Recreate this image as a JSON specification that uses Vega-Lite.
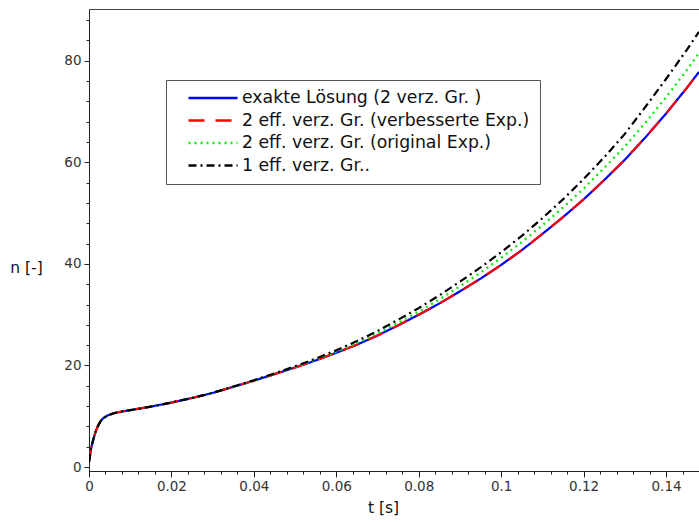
{
"$schema": "https://vega.github.io/schema/vega-lite/v6.json",
"autosize": {"type": "none"},
"padding": {"left": 89, "top": 9, "right": 0, "bottom": 51},
"width": 610,
"height": 462,
"background": "white",
"config": {"view": {"stroke": "#444", "strokeWidth": 1}, "font": "DejaVu Sans"},
"datasets": {
"curves": [
{"t":0,"n":1.0,"s":"A"},{"t":0.0005,"n":3.7,"s":"A"},{"t":0.001,"n":5.3,"s":"A"},{"t":0.0015,"n":6.7,"s":"A"},{"t":0.002,"n":7.8,"s":"A"},{"t":0.0027,"n":8.9,"s":"A"},{"t":0.0034,"n":9.6,"s":"A"},{"t":0.0046,"n":10.2,"s":"A"},{"t":0.006,"n":10.6,"s":"A"},{"t":0.008,"n":10.95,"s":"A"},{"t":0.01,"n":11.2,"s":"A"},{"t":0.015,"n":11.9,"s":"A"},{"t":0.02,"n":12.7,"s":"A"},{"t":0.025,"n":13.6,"s":"A"},{"t":0.03,"n":14.6,"s":"A"},{"t":0.035,"n":15.8,"s":"A"},{"t":0.04,"n":17.0,"s":"A"},{"t":0.045,"n":18.3,"s":"A"},{"t":0.05,"n":19.6,"s":"A"},{"t":0.055,"n":21.0,"s":"A"},{"t":0.06,"n":22.5,"s":"A"},{"t":0.065,"n":24.1,"s":"A"},{"t":0.07,"n":25.9,"s":"A"},{"t":0.075,"n":27.9,"s":"A"},{"t":0.08,"n":30.0,"s":"A"},{"t":0.085,"n":32.2,"s":"A"},{"t":0.09,"n":34.6,"s":"A"},{"t":0.095,"n":37.1,"s":"A"},{"t":0.1,"n":39.8,"s":"A"},{"t":0.105,"n":42.7,"s":"A"},{"t":0.11,"n":45.9,"s":"A"},{"t":0.115,"n":49.2,"s":"A"},{"t":0.12,"n":52.7,"s":"A"},{"t":0.125,"n":56.5,"s":"A"},{"t":0.13,"n":60.5,"s":"A"},{"t":0.135,"n":64.9,"s":"A"},{"t":0.14,"n":69.6,"s":"A"},{"t":0.145,"n":74.6,"s":"A"},{"t":0.148,"n":77.8,"s":"A"},
{"t":0,"n":1.0,"s":"B"},{"t":0.0005,"n":3.7,"s":"B"},{"t":0.001,"n":5.3,"s":"B"},{"t":0.0015,"n":6.7,"s":"B"},{"t":0.002,"n":7.8,"s":"B"},{"t":0.0027,"n":8.9,"s":"B"},{"t":0.0034,"n":9.6,"s":"B"},{"t":0.0046,"n":10.2,"s":"B"},{"t":0.006,"n":10.6,"s":"B"},{"t":0.008,"n":10.95,"s":"B"},{"t":0.01,"n":11.2,"s":"B"},{"t":0.015,"n":11.9,"s":"B"},{"t":0.02,"n":12.7,"s":"B"},{"t":0.025,"n":13.6,"s":"B"},{"t":0.03,"n":14.6,"s":"B"},{"t":0.035,"n":15.8,"s":"B"},{"t":0.04,"n":17.0,"s":"B"},{"t":0.045,"n":18.3,"s":"B"},{"t":0.05,"n":19.6,"s":"B"},{"t":0.055,"n":21.0,"s":"B"},{"t":0.06,"n":22.5,"s":"B"},{"t":0.065,"n":24.1,"s":"B"},{"t":0.07,"n":25.9,"s":"B"},{"t":0.075,"n":27.9,"s":"B"},{"t":0.08,"n":30.0,"s":"B"},{"t":0.085,"n":32.2,"s":"B"},{"t":0.09,"n":34.6,"s":"B"},{"t":0.095,"n":37.1,"s":"B"},{"t":0.1,"n":39.8,"s":"B"},{"t":0.105,"n":42.7,"s":"B"},{"t":0.11,"n":45.9,"s":"B"},{"t":0.115,"n":49.2,"s":"B"},{"t":0.12,"n":52.7,"s":"B"},{"t":0.125,"n":56.5,"s":"B"},{"t":0.13,"n":60.5,"s":"B"},{"t":0.135,"n":64.9,"s":"B"},{"t":0.14,"n":69.6,"s":"B"},{"t":0.145,"n":74.6,"s":"B"},{"t":0.148,"n":77.8,"s":"B"},
{"t":0,"n":1.0,"s":"C"},{"t":0.0005,"n":3.7,"s":"C"},{"t":0.001,"n":5.3,"s":"C"},{"t":0.0015,"n":6.7,"s":"C"},{"t":0.002,"n":7.8,"s":"C"},{"t":0.0027,"n":8.9,"s":"C"},{"t":0.0034,"n":9.6,"s":"C"},{"t":0.0046,"n":10.2,"s":"C"},{"t":0.006,"n":10.6,"s":"C"},{"t":0.008,"n":10.95,"s":"C"},{"t":0.01,"n":11.2,"s":"C"},{"t":0.015,"n":11.9,"s":"C"},{"t":0.02,"n":12.7,"s":"C"},{"t":0.025,"n":13.6,"s":"C"},{"t":0.03,"n":14.6,"s":"C"},{"t":0.035,"n":15.8,"s":"C"},{"t":0.04,"n":17.0,"s":"C"},{"t":0.045,"n":18.35,"s":"C"},{"t":0.05,"n":19.7,"s":"C"},{"t":0.055,"n":21.15,"s":"C"},{"t":0.06,"n":22.7,"s":"C"},{"t":0.065,"n":24.4,"s":"C"},{"t":0.07,"n":26.3,"s":"C"},{"t":0.075,"n":28.4,"s":"C"},{"t":0.08,"n":30.6,"s":"C"},{"t":0.085,"n":33.0,"s":"C"},{"t":0.09,"n":35.6,"s":"C"},{"t":0.095,"n":38.3,"s":"C"},{"t":0.1,"n":41.2,"s":"C"},{"t":0.105,"n":44.3,"s":"C"},{"t":0.11,"n":47.6,"s":"C"},{"t":0.115,"n":51.1,"s":"C"},{"t":0.12,"n":54.8,"s":"C"},{"t":0.125,"n":58.9,"s":"C"},{"t":0.13,"n":63.1,"s":"C"},{"t":0.135,"n":67.8,"s":"C"},{"t":0.14,"n":72.8,"s":"C"},{"t":0.145,"n":78.1,"s":"C"},{"t":0.148,"n":81.5,"s":"C"},
{"t":0,"n":1.0,"s":"D"},{"t":0.0005,"n":3.7,"s":"D"},{"t":0.001,"n":5.3,"s":"D"},{"t":0.0015,"n":6.7,"s":"D"},{"t":0.002,"n":7.8,"s":"D"},{"t":0.0027,"n":8.9,"s":"D"},{"t":0.0034,"n":9.6,"s":"D"},{"t":0.0046,"n":10.2,"s":"D"},{"t":0.006,"n":10.6,"s":"D"},{"t":0.008,"n":10.95,"s":"D"},{"t":0.01,"n":11.2,"s":"D"},{"t":0.015,"n":11.9,"s":"D"},{"t":0.02,"n":12.7,"s":"D"},{"t":0.025,"n":13.6,"s":"D"},{"t":0.03,"n":14.6,"s":"D"},{"t":0.035,"n":15.85,"s":"D"},{"t":0.04,"n":17.1,"s":"D"},{"t":0.045,"n":18.45,"s":"D"},{"t":0.05,"n":19.85,"s":"D"},{"t":0.055,"n":21.35,"s":"D"},{"t":0.06,"n":23.0,"s":"D"},{"t":0.065,"n":24.8,"s":"D"},{"t":0.07,"n":26.8,"s":"D"},{"t":0.075,"n":29.0,"s":"D"},{"t":0.08,"n":31.3,"s":"D"},{"t":0.085,"n":33.8,"s":"D"},{"t":0.09,"n":36.5,"s":"D"},{"t":0.095,"n":39.3,"s":"D"},{"t":0.1,"n":42.3,"s":"D"},{"t":0.105,"n":45.5,"s":"D"},{"t":0.11,"n":49.0,"s":"D"},{"t":0.115,"n":52.7,"s":"D"},{"t":0.12,"n":56.7,"s":"D"},{"t":0.125,"n":61.0,"s":"D"},{"t":0.13,"n":65.6,"s":"D"},{"t":0.135,"n":70.9,"s":"D"},{"t":0.14,"n":76.4,"s":"D"},{"t":0.145,"n":82.1,"s":"D"},{"t":0.148,"n":85.7,"s":"D"}
]
},
"data": {"name": "curves"},
"transform": [
{"lookup": "s", "from": {"data": {"values": [
{"s":"A","label":"exakte Lösung (2 verz. Gr. )"},
{"s":"B","label":"2 eff. verz. Gr. (verbesserte Exp.)"},
{"s":"C","label":"2 eff. verz. Gr. (original Exp.)"},
{"s":"D","label":"1 eff. verz. Gr.."}
]}, "key": "s", "fields": ["label"]}}
],
"encoding": {
"x": {"field": "t", "type": "quantitative",
 "scale": {"domain": [0, 0.148], "nice": false, "zero": false},
 "axis": {
  "values": [0,0.004,0.008,0.012,0.016,0.02,0.024,0.028,0.032,0.036,0.04,0.044,0.048,0.052,0.056,0.06,0.064,0.068,0.072,0.076,0.08,0.084,0.088,0.092,0.096,0.1,0.104,0.108,0.112,0.116,0.12,0.124,0.128,0.132,0.136,0.14,0.144],
  "labelExpr": "abs(datum.value*50 - round(datum.value*50)) < 0.001 ? format(datum.value, '~g') : ''",
  "tickSize": {"condition": {"test": "abs(datum.value*50 - round(datum.value*50)) < 0.001", "value": 6}, "value": 3},
  "labelOverlap": false, "labelFlush": false, "grid": false,
  "domainColor": "#222", "tickColor": "#222", "labelColor": "#333",
  "labelFont": "DejaVu Sans", "labelFontSize": 13.5, "labelPadding": 2,
  "title": "t [s]", "titleFont": "DejaVu Sans", "titleFontSize": 15.5, "titleFontWeight": "normal", "titleColor": "#111",
  "titleX": 294, "titleY": 36, "titleAnchor": null, "titleAlign": "center", "titleBaseline": "middle"
 }},
"y": {"field": "n", "type": "quantitative",
 "scale": {"domain": [-0.77, 90.18], "nice": false, "zero": false},
 "axis": {
  "values": [0,4,8,12,16,20,24,28,32,36,40,44,48,52,56,60,64,68,72,76,80,84,88],
  "labelExpr": "datum.value % 20 == 0 ? datum.label : ''",
  "tickSize": {"condition": {"test": "datum.value % 20 == 0", "value": 5}, "value": 3},
  "labelOverlap": false, "labelFlush": false, "grid": false,
  "domainColor": "#222", "tickColor": "#222", "labelColor": "#333",
  "labelFont": "DejaVu Sans", "labelFontSize": 13.5, "labelPadding": 3,
  "title": "n [-]", "titleFont": "DejaVu Sans", "titleFontSize": 15.5, "titleFontWeight": "normal", "titleColor": "#111",
  "titleAngle": 0, "titleX": -63, "titleY": 258, "titleAlign": "center", "titleBaseline": "middle"
 }},
"color": {"field": "label", "type": "nominal",
 "scale": {"domain": ["exakte Lösung (2 verz. Gr. )", "2 eff. verz. Gr. (verbesserte Exp.)", "2 eff. verz. Gr. (original Exp.)", "1 eff. verz. Gr.."],
  "range": ["#0000ff", "#ff0000", "#00ee00", "#000000"]},
 "legend": {"title": null, "orient": "none", "legendX": 77, "legendY": 71, "direction": "vertical",
  "symbolType": "stroke", "symbolSize": 2401, "symbolStrokeWidth": 2.5, "clipHeight": 16,
  "strokeColor": "#555", "fillColor": "white", "padding": 10,
  "labelFont": "DejaVu Sans", "labelFontSize": 17.3, "labelColor": "#111", "labelLimit": 0,
  "symbolOffset": 11, "labelOffset": 3, "rowPadding": 4.5}},
"strokeDash": {"field": "label", "type": "nominal",
 "scale": {"domain": ["exakte Lösung (2 verz. Gr. )", "2 eff. verz. Gr. (verbesserte Exp.)", "2 eff. verz. Gr. (original Exp.)", "1 eff. verz. Gr.."],
  "range": [[1,0],[16,11],[2,4],[8,4,2,4]]},
 "legend": {"title": null, "orient": "none", "legendX": 77, "legendY": 71, "direction": "vertical",
  "symbolType": "stroke", "symbolSize": 2401, "symbolStrokeWidth": 2.5, "clipHeight": 16,
  "strokeColor": "#555", "fillColor": "white", "padding": 10,
  "labelFont": "DejaVu Sans", "labelFontSize": 17.3, "labelColor": "#111", "labelLimit": 0,
  "symbolOffset": 11, "labelOffset": 3, "rowPadding": 4.5}}
},
"layer": [
{"transform": [{"filter": "datum.s == 'A'"}], "mark": {"type": "line", "strokeWidth": 2.2, "clip": true}},
{"transform": [{"filter": "datum.s == 'B'"}], "mark": {"type": "line", "strokeWidth": 2.2, "clip": true}},
{"transform": [{"filter": "datum.s == 'C'"}], "mark": {"type": "line", "strokeWidth": 2.2, "clip": true}},
{"transform": [{"filter": "datum.s == 'D'"}], "mark": {"type": "line", "strokeWidth": 2.2, "clip": true}}
]
}
